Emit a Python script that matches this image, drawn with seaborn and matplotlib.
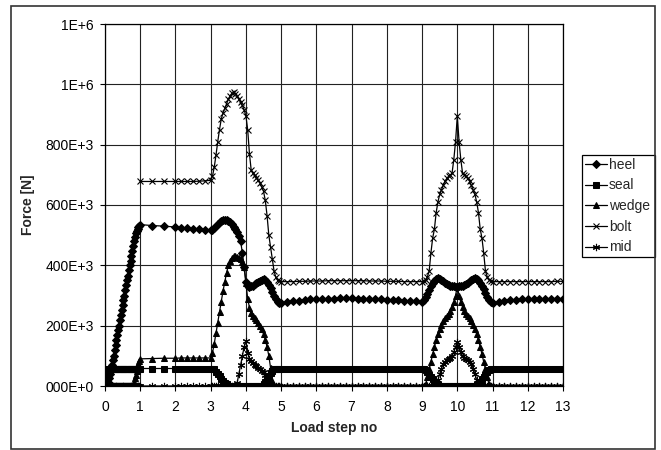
import numpy as np
import pandas as pd
import matplotlib
matplotlib.use("Agg")
import matplotlib.pyplot as plt
from matplotlib.patches import Rectangle
import seaborn as sns

# ---------------- data (forces in kN, converted to N) ----------------
x_a = [0.0, 0.025, 0.05, 0.075, 0.1, 0.125, 0.15, 0.175, 0.2, 0.225, 0.25, 0.275, 0.3, 0.325, 0.35, 0.375,
       0.4, 0.425, 0.45, 0.475, 0.5, 0.525, 0.55, 0.575, 0.6, 0.625, 0.65, 0.675, 0.7, 0.725, 0.75, 0.775,
       0.8, 0.825, 0.85, 0.875, 0.9, 0.925, 0.95, 0.975]
x_b = [1.0, 1.33, 1.67, 2.0, 2.17, 2.33, 2.5, 2.67, 2.83]
x_c = [3.0, 3.05, 3.1, 3.15, 3.2, 3.25, 3.3, 3.35, 3.4, 3.45, 3.5, 3.55, 3.6, 3.65, 3.7, 3.75, 3.8, 3.85, 3.9, 3.95,
       4.0, 4.05, 4.1, 4.15, 4.2, 4.25, 4.3, 4.35, 4.4, 4.45, 4.5, 4.55, 4.6, 4.65, 4.7, 4.75, 4.8, 4.85, 4.9, 4.95]
x_d = [5.0, 5.17, 5.33, 5.5, 5.67, 5.83, 6.0, 6.17, 6.33, 6.5, 6.67, 6.83, 7.0, 7.17, 7.33, 7.5, 7.67, 7.83,
       8.0, 8.17, 8.33, 8.5, 8.67, 8.83]
x_e = [9.0, 9.05, 9.1, 9.15, 9.2, 9.25, 9.3, 9.35, 9.4, 9.45, 9.5, 9.55, 9.6, 9.65, 9.7, 9.75, 9.8, 9.85, 9.9, 9.95,
       10.0, 10.05, 10.1, 10.15, 10.2, 10.25, 10.3, 10.35, 10.4, 10.45, 10.5, 10.55, 10.6, 10.65, 10.7, 10.75, 10.8, 10.85, 10.9, 10.95]
x_f = [11.0, 11.17, 11.33, 11.5, 11.67, 11.83, 12.0, 12.17, 12.33, 12.5, 12.67, 12.83, 13.0]

heel_a = [0, 0, 0, 3, 10, 25, 40, 55, 70, 85, 100, 118, 135, 152, 170, 185, 200, 218, 235, 252,
          270, 285, 300, 318, 335, 350, 365, 383, 400, 415, 430, 448, 465, 480, 495, 506, 515, 522, 528, 532]
heel_b = [535, 532, 530, 527, 525, 523, 521, 519, 517]
heel_c = [516, 518, 524, 531, 538, 543, 547, 549, 550, 549, 546, 542, 536, 528, 520, 510, 498, 480, 440, 395,
          345, 330, 328, 330, 333, 337, 341, 345, 349, 353, 355, 352, 345, 335, 325, 312, 298, 287, 279, 276]
heel_d = [275, 278, 281, 283, 285, 287, 288, 289, 290, 290, 291, 291, 291, 290, 290, 289, 288, 287, 286, 285, 284, 283, 282, 281]
heel_e = [278, 285, 295, 306, 318, 330, 340, 348, 354, 357, 355, 351, 347, 343, 339, 336, 333, 331, 330, 329,
          329, 330, 331, 333, 336, 339, 343, 347, 351, 355, 357, 356, 350, 342, 332, 320, 308, 296, 285, 278]
heel_f = [275, 280, 283, 285, 286, 287, 288, 288, 289, 289, 290, 290, 290]

seal_a = [0, 20, 40, 52, 58, 58, 58, 58, 58, 58, 58, 58, 58, 58, 58, 58, 58, 58, 58, 58,
          58, 58, 58, 58, 58, 58, 58, 58, 58, 58, 58, 58, 58, 58, 58, 58, 58, 58, 58, 58]
seal_b = [58, 58, 58, 58, 58, 58, 58, 58, 58]
seal_c = [58, 58, 55, 48, 40, 32, 24, 17, 10, 5, 1, 0, 0, 0, 0, 0, 0, 0, 0, 0,
          0, 0, 0, 0, 0, 0, 0, 0, 0, 0, 5, 12, 22, 33, 43, 50, 55, 57, 58, 58]
seal_d = [58, 58, 58, 58, 58, 58, 58, 58, 58, 58, 58, 58, 58, 58, 58, 58, 58, 58, 58, 58, 58, 58, 58, 58]
seal_e = [58, 58, 54, 46, 38, 30, 22, 14, 8, 3, 0, 0, 0, 0, 0, 0, 0, 0, 0, 0,
          0, 0, 0, 0, 0, 0, 0, 0, 0, 0, 0, 3, 8, 14, 22, 30, 38, 46, 54, 58]
seal_f = [58, 58, 58, 58, 58, 58, 58, 58, 58, 58, 58, 58, 58]

wedge_a = [0, 0, 0, 0, 0, 0, 0, 0, 0, 0, 0, 0, 0, 0, 0, 0, 0, 0, 0, 0,
           0, 0, 0, 0, 0, 0, 0, 0, 0, 0, 0, 0, 0, 12, 25, 38, 50, 62, 72, 82]
wedge_b = [90, 91, 92, 92, 93, 93, 93, 93, 93]
wedge_c = [93, 110, 140, 175, 210, 245, 280, 315, 345, 375, 400, 415, 425, 430, 430, 428, 425, 420, 412, 395,
           340, 290, 260, 243, 232, 225, 218, 210, 200, 188, 172, 153, 130, 100, 60, 15, 0, 0, 0, 0]
wedge_d = [0, 0, 0, 0, 0, 0, 0, 0, 0, 0, 0, 0, 0, 0, 0, 0, 0, 0, 0, 0, 0, 0, 0, 0]
wedge_e = [0, 0, 5, 30, 55, 80, 105, 130, 152, 172, 190, 203, 215, 224, 232, 240, 250, 262, 277, 300,
           330, 300, 277, 262, 250, 240, 232, 224, 215, 203, 190, 172, 152, 130, 105, 80, 55, 30, 5, 0]
wedge_f = [0, 0, 0, 0, 0, 0, 0, 0, 0, 0, 0, 0, 0]

bolt_a = [None, None, None, None, None, None, None, None, None, None, None, None, None, None, None, None, None, None, None, None,
          None, None, None, None, None, None, None, None, None, None, None, None, None, None, None, None, None, None, None, None]
bolt_b = [678, 678, 678, 678, 678, 678, 678, 679, 680]
bolt_c = [682, 695, 725, 765, 810, 850, 885, 905, 920, 935, 950, 962, 970, 973, 968, 960, 950, 940, 930, 915,
          895, 850, 770, 715, 705, 698, 690, 682, 672, 660, 645, 615, 565, 500, 460, 420, 380, 360, 350, 347]
bolt_d = [346, 346, 346, 347, 347, 348, 348, 348, 349, 349, 349, 349, 349, 349, 349, 348, 348, 348, 347, 347, 347, 346, 346, 346]
bolt_e = [346, 348, 352, 362, 380, 440, 490, 520, 575, 610, 635, 650, 665, 678, 688, 695, 700, 705, 750, 810,
          895, 810, 750, 705, 700, 695, 688, 678, 665, 650, 635, 610, 575, 520, 490, 440, 380, 362, 352, 348]
bolt_f = [346, 346, 346, 346, 346, 346, 346, 346, 346, 346, 346, 347, 347]

mid_a = [0, 0, 0, 0, 0, 0, 0, 0, 0, 0, 0, 0, 0, 0, 0, 0, 0, 0, 0, 0,
         0, 0, 0, 0, 0, 0, 0, 0, 0, 0, 0, 0, 0, 0, 0, 0, 0, 0, 0, 0]
mid_b = [0, 0, 0, 0, 0, 0, 0, 0, 0]
mid_c = [0, 0, 0, 0, 0, 0, 0, 0, 0, 0, 0, 0, 0, 0, 0, 10, 40, 70, 100, 130,
         150, 110, 90, 82, 76, 70, 65, 60, 55, 50, 45, 38, 28, 15, 5, 0, 0, 0, 0, 0]
mid_d = [0, 0, 0, 0, 0, 0, 0, 0, 0, 0, 0, 0, 0, 0, 0, 0, 0, 0, 0, 0, 0, 0, 0, 0]
mid_e = [0, 0, 0, 0, 0, 0, 0, 0, 5, 20, 40, 58, 72, 80, 86, 90, 94, 100, 112, 130,
         145, 130, 112, 100, 94, 90, 86, 80, 72, 58, 40, 20, 5, 0, 0, 0, 0, 0, 0, 0]
mid_f = [0, 0, 0, 0, 0, 0, 0, 0, 0, 0, 0, 0, 0]

series_names = ["heel", "seal", "wedge", "bolt", "mid"]
x_ticks = [0, 1, 2, 3, 4, 5, 6, 7, 8, 9, 10, 11, 12, 13]
y_ticks = [0, 200e3, 400e3, 600e3, 800e3, 1000e3, 1200e3]
y_tick_labels = ["000E+0", "200E+3", "400E+3", "600E+3", "800E+3", "1E+6", "1E+6"]

# ---------------- build table ----------------
steps = x_a + x_b + x_c + x_d + x_e + x_f
vals = {
    "heel": heel_a + heel_b + heel_c + heel_d + heel_e + heel_f,
    "seal": seal_a + seal_b + seal_c + seal_d + seal_e + seal_f,
    "wedge": wedge_a + wedge_b + wedge_c + wedge_d + wedge_e + wedge_f,
    "bolt": bolt_a + bolt_b + bolt_c + bolt_d + bolt_e + bolt_f,
    "mid": mid_a + mid_b + mid_c + mid_d + mid_e + mid_f,
}
df = pd.DataFrame({"step": steps})
for k, v in vals.items():
    df[k] = pd.Series(v, dtype="float") * 1e3

# ---------------- styling ----------------
sns.set_style("white")
plt.rcParams["font.family"] = ["Liberation Sans", "DejaVu Sans"]

fig = plt.figure(figsize=(6.61, 4.50), dpi=100)
ax = fig.add_axes([105 / 661, 1 - 386 / 450, 458 / 661, 362 / 450])

markers = {
    "heel": dict(marker="D", ms=4.0),
    "seal": dict(marker="s", ms=3.8),
    "wedge": dict(marker="^", ms=4.4),
    "bolt": dict(marker="x", ms=4.4, mew=0.8),
    "mid": dict(marker=(6, 2, 0), ms=5.2, mew=0.8),
}

handles = []
for name in series_names:
    sub = df[["step", name]].dropna()
    sns.lineplot(data=sub, x="step", y=name, ax=ax, color="black", lw=0.9,
                 estimator=None, sort=False, mfc="black", mec="black",
                 **markers[name])
    handles.append(ax.lines[-1])

ax.set_xlim(0, 13)
ax.set_ylim(0, 1.2e6)
ax.set_xticks(x_ticks)
ax.set_xticklabels([str(t) for t in x_ticks])
ax.set_yticks(y_ticks)
ax.set_yticklabels(y_tick_labels)
ax.grid(True, color="#222222", lw=0.8)
ax.set_axisbelow(True)
for s in ax.spines.values():
    s.set_color("black")
    s.set_linewidth(0.9)
ax.tick_params(axis="both", labelsize=10, colors="black", length=3.5, width=0.8, direction="out")
ax.tick_params(axis="x", pad=6.5, bottom=True)
ax.tick_params(axis="y", pad=4.5, left=True)

ax.set_xlabel("Load step no", fontsize=10, fontweight="bold")
ax.set_ylabel("Force [N]", fontsize=10, fontweight="bold")
ax.xaxis.set_label_coords(0.5, -0.098)
ax.yaxis.set_label_coords(-0.152, 0.5)

leg = ax.legend(handles, series_names, loc="upper left", mode="expand",
                bbox_to_anchor=(582 / 661, 1 - 255 / 450, 73 / 661, 100 / 450),
                bbox_transform=fig.transFigure,
                prop={"size": 10}, frameon=True, fancybox=False, shadow=False,
                borderpad=0.2, labelspacing=0.48, handlelength=1.58, handletextpad=0.15,
                borderaxespad=0.0)
leg.get_frame().set_edgecolor("black")
leg.get_frame().set_linewidth(0.9)
leg.get_frame().set_alpha(1)

fig.add_artist(Rectangle((11 / 661, 1 / 450), 644 / 661, 443 / 450, transform=fig.transFigure,
                         fill=False, edgecolor="#333333", lw=1.2))

fig.savefig("out.png", dpi=100)
